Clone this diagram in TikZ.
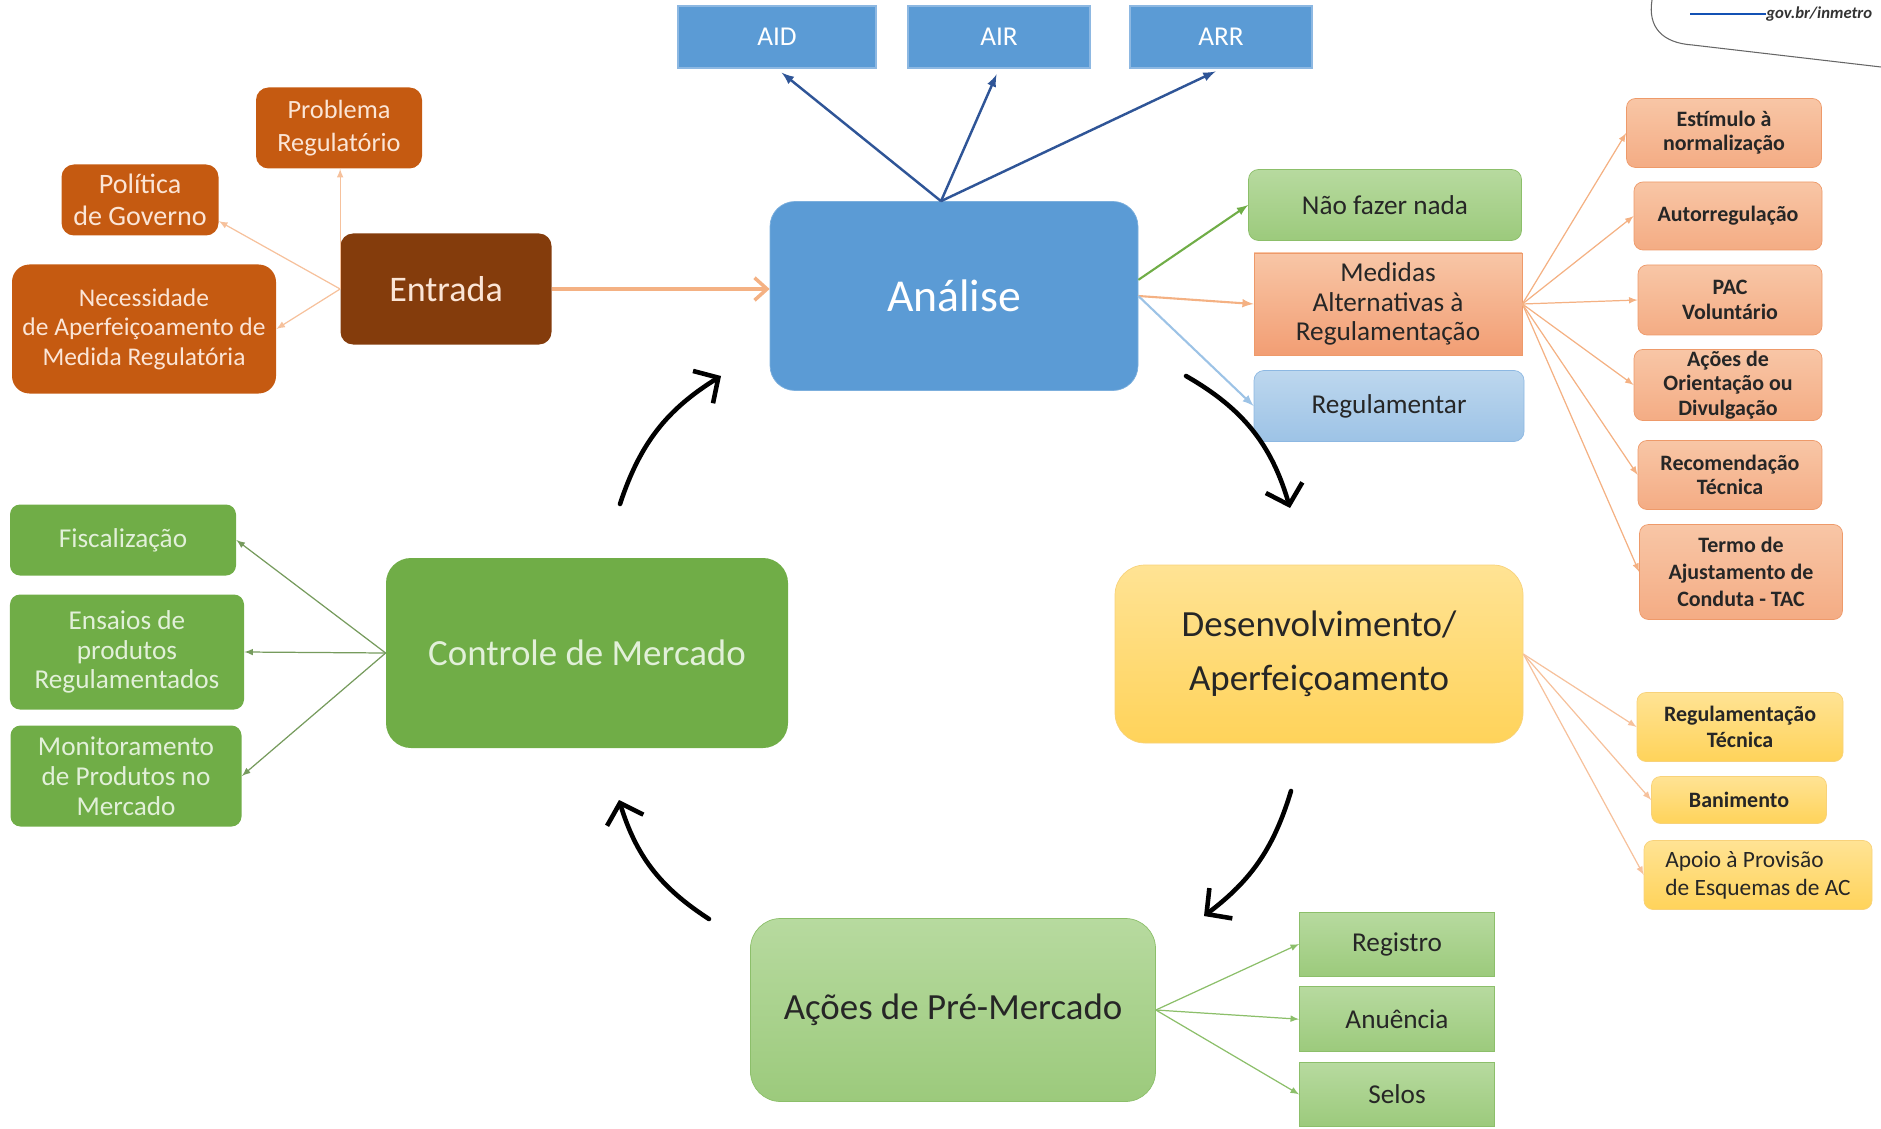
\documentclass[tikz,border=0pt]{standalone}
\usepackage{fontspec}
\setmainfont{Carlito}
\usepackage{xcolor}
\usepackage{tikz}
\usetikzlibrary{calc}
\usetikzlibrary{arrows}
\usetikzlibrary{arrows.meta}
\usetikzlibrary{positioning}

\definecolor{azul}{HTML}{5B9BD5}
\definecolor{azulborda}{HTML}{8DB8E2}
\definecolor{azula}{HTML}{BDD7EE}
\definecolor{azulb}{HTML}{9DC3E6}
\definecolor{azulesc}{HTML}{2F5597}
\definecolor{azulgov}{HTML}{1351B4}
\definecolor{marrom}{HTML}{843C0C}
\definecolor{laranjaesc}{HTML}{C55A11}
\definecolor{creme}{HTML}{FBE5D6}
\definecolor{pessego}{HTML}{F4B183}
\definecolor{salmaoa}{HTML}{F8C6A6}
\definecolor{salmaob}{HTML}{F4AC84}
\definecolor{salmaoc}{HTML}{F29E74}
\definecolor{salmaoborda}{HTML}{EE9A6A}
\definecolor{amareloa}{HTML}{FFE394}
\definecolor{amarelob}{HTML}{FFD35A}
\definecolor{amareloborda}{HTML}{F8D27A}
\definecolor{verde}{HTML}{70AD47}
\definecolor{verdeesc}{HTML}{548235}
\definecolor{verdetexto}{HTML}{E2F0D9}
\definecolor{verdea}{HTML}{B7DA9F}
\definecolor{verdeb}{HTML}{9CCA7C}
\definecolor{verdeborda}{HTML}{8CBF6A}

\begin{document}
\begin{tikzpicture}
    \tikzstyle{every node}=[align=center,inner sep=1pt,font=\fontsize{15.5}{17}\selectfont]
    \tikzstyle{grande}=[font=\fontsize{21}{31}\selectfont]
    \tikzstyle{entr}=[fill=laranjaesc,text=creme,rounded corners=0.25cm]
    \tikzstyle{topo}=[fill=azul,draw=azulborda,line width=1pt,text=white]
    \tikzstyle{alt}=[top color=salmaoa,bottom color=salmaob,draw=salmaoborda,rounded corners=0.18cm,text=black!85,font=\bfseries\fontsize{12.5}{13.8}\selectfont]
    \tikzstyle{reg}=[top color=amareloa,bottom color=amarelob,draw=amareloborda,rounded corners=0.18cm,text=black!85,font=\bfseries\fontsize{12.5}{15}\selectfont]
    \tikzstyle{merc}=[fill=verde,text=verdetexto,rounded corners=0.2cm]
    \tikzstyle{pre}=[top color=verdea,bottom color=verdeb,draw=verdeborda,text=black!85]
    \tikzstyle{fino}=[-latex,line width=0.7pt]
    \tikzstyle{ciclo}=[-{Straight Barb[length=0.36cm,width=0.76cm]},line width=2.6pt,black,line cap=round]

   \useasboundingbox (0,0) rectangle (37.62,-22.58);

   % entrada e origens
   \node[entr,fill=marrom,minimum width=4.22cm,minimum height=2.22cm,font=\fontsize{20.5}{24}\selectfont] (entrada) at (8.92,-5.78) {Entrada};
   \node[entr,minimum width=3.32cm,minimum height=1.62cm,font=\fontsize{15}{18.4}\selectfont] (problema) at (6.78,-2.56) {Problema\\Regulatório};
   \node[entr,minimum width=3.14cm,minimum height=1.42cm,font=\fontsize{16}{18.4}\selectfont] (politica) at (2.80,-4.00) {Política\\de Governo};
   \node[entr,rounded corners=0.35cm,minimum width=5.28cm,minimum height=2.58cm,font=\fontsize{14.5}{16.7}\selectfont] (necessidade) at (2.88,-6.58) {Necessidade\\de Aperfeiçoamento de\\Medida Regulatória};

   % analise
   \node[fill=azul,draw=azul!80!white,rounded corners=0.5cm,minimum width=7.36cm,minimum height=3.78cm,text=white,font=\fontsize{26}{30}\selectfont] (analise) at (19.08,-5.92) {Análise};
   \node[topo,minimum width=3.96cm,minimum height=1.24cm] (aid) at (15.54,-0.74) {AID};
   \node[topo,minimum width=3.64cm,minimum height=1.24cm] (air) at (19.98,-0.74) {AIR};
   \node[topo,minimum width=3.64cm,minimum height=1.24cm] (arr) at (24.42,-0.74) {ARR};

   \node[rounded corners=0.2cm,top color=verdea,bottom color=verdeb,draw=verdeborda,text=black!85,minimum width=5.46cm,minimum height=1.42cm] (nada) at (27.70,-4.10) {Não fazer nada};
   \node[top color=salmaoa,bottom color=salmaoc,draw=salmaoborda,text=black!85,minimum width=5.36cm,minimum height=2.04cm] (medidas) at (27.76,-6.08) {Medidas\\Alternativas à\\Regulamentação};
   \node[rounded corners=0.2cm,top color=azula,bottom color=azulb,draw=azulborda,text=black!85,minimum width=5.40cm,minimum height=1.42cm] (regulamentar) at (27.78,-8.12) {Regulamentar};

   \node[alt,minimum width=3.90cm,minimum height=1.38cm] (estimulo) at (34.48,-2.66) {Estímulo à\\normalização};
   \node[alt,minimum width=3.76cm,minimum height=1.36cm] (autorreg) at (34.56,-4.32) {Autorregulação};
   \node[alt,minimum width=3.68cm,minimum height=1.40cm] (pac) at (34.60,-6.00) {PAC\\Voluntário};
   \node[alt,minimum width=3.76cm,minimum height=1.42cm] (orientacao) at (34.56,-7.70) {Ações de\\Orientação ou\\Divulgação};
   \node[alt,minimum width=3.68cm,minimum height=1.38cm] (recomendacao) at (34.60,-9.50) {Recomendação\\Técnica};
   \node[alt,minimum width=4.06cm,minimum height=1.90cm,font=\bfseries\fontsize{12.5}{15.5}\selectfont] (termo) at (34.82,-11.44) {Termo de\\Ajustamento de\\Conduta - TAC};

   % desenvolvimento
   \node[grande,top color=amareloa,bottom color=amarelob,draw=amareloborda,rounded corners=0.6cm,text=black!85,minimum width=8.16cm,minimum height=3.56cm] (desenv) at (26.38,-13.08) {Desenvolvimento/\\Aperfeiçoamento};
   \node[reg,minimum width=4.12cm,minimum height=1.38cm] (regtec) at (34.80,-14.54) {Regulamentação\\Técnica};
   \node[reg,minimum width=3.50cm,minimum height=0.94cm] (banimento) at (34.78,-16.00) {Banimento};
   \node[reg,align=left,minimum width=4.56cm,minimum height=1.38cm,font=\fontsize{13.3}{16}\selectfont] (apoio) at (35.16,-17.50) {Apoio à Provisão\\de Esquemas de AC};

   % pre-mercado
   \node[grande,pre,rounded corners=0.6cm,minimum width=8.10cm,minimum height=3.66cm] (premercado) at (19.06,-20.20) {Ações de Pré-Mercado};
   \node[pre,minimum width=3.90cm,minimum height=1.28cm] (registro) at (27.94,-18.88) {Registro};
   \node[pre,minimum width=3.90cm,minimum height=1.30cm,below=0.2cm of registro] (anuencia) {Anuência};
   \node[pre,minimum width=3.90cm,minimum height=1.28cm,below=0.2cm of anuencia] (selos) {Selos};

   % controle de mercado
   \node[grande,merc,rounded corners=0.5cm,minimum width=8.04cm,minimum height=3.80cm] (controle) at (11.74,-13.06) {Controle de Mercado};
   \node[merc,minimum width=4.52cm,minimum height=1.42cm] (fiscal) at (2.46,-10.80) {Fiscalização};
   \node[merc,minimum width=4.68cm,minimum height=2.30cm] (ensaios) at (2.54,-13.04) {Ensaios de\\produtos\\Regulamentados};
   \node[merc,minimum width=4.62cm,minimum height=2.02cm] (monitor) at (2.52,-15.52) {Monitoramento\\de Produtos no\\Mercado};

   % ligacoes
   \draw[pessego,line width=2pt,-{Straight Barb[length=0.25cm,width=0.45cm]}] (entrada.east) -- (entrada.east -| analise.west);
   \draw[fino,pessego!80] (entrada.west) -- (entrada.west |- problema.south);
   \draw[fino,pessego!80] (entrada.west) -- (politica.-15);
   \draw[fino,pessego!80] (entrada.west) -- (necessidade.east);

   \coordinate (atopo) at ($(analise.north)+(-0.26,0)$);
   \foreach \alvo in {aid,air,arr}
     \draw[azulesc,line width=1.4pt,-latex,shorten >=0.12cm] (atopo) -- (\alvo.south);

   \draw[fino,verde,line width=1.2pt] (analise.5) -- (nada.west);
   \draw[fino,pessego,line width=1.2pt] (analise.east) -- (medidas.west);
   \draw[fino,azulb,line width=1.2pt] (analise.east) -- (regulamentar.west);

   \foreach \alvo in {estimulo,autorreg,pac,orientacao,recomendacao,termo}
     \draw[fino,pessego] (medidas.east) -- (\alvo.west);

   \foreach \alvo in {regtec,banimento,apoio}
     \draw[fino,pessego!80] (desenv.east) -- (\alvo.west);

   \foreach \alvo in {registro,anuencia,selos}
     \draw[fino,verdeborda] (premercado.east) -- (\alvo.west);

   \foreach \alvo in {fiscal,ensaios,monitor}
     \draw[fino,verdeesc!80] (controle.west) -- (\alvo.east);

   % ciclo
   \coordinate (c1) at (12.40,-10.08);
   \coordinate (c2) at (14.42,-7.52);
   \coordinate (c3) at (23.72,-7.52);
   \coordinate (c4) at (25.80,-10.16);
   \coordinate (c5) at (25.82,-15.82);
   \coordinate (c6) at (24.08,-18.32);
   \coordinate (c7) at (14.18,-18.38);
   \coordinate (c8) at (12.38,-16.00);

   \draw[ciclo] (c1) to[bend left=20] (c2);
   \draw[ciclo] (c3) to[bend left=22] (c4);
   \draw[ciclo] (c5) to[bend left=18] (c6);
   \draw[ciclo] (c7) to[bend left=20] (c8);

   % marca
   \node[anchor=west,inner sep=0pt,text=black!80,font=\bfseries\itshape\fontsize{9.5}{11}\selectfont] (logo) at (35.32,-0.28) {gov.br/inmetro};
   \draw[azulgov,line width=0.8pt] (logo.west) -- ++(-1.52,0);
   \draw[black!60,line width=0.6pt] (33.04,0) .. controls (32.95,-0.55) and (33.25,-0.86) .. (33.85,-0.90) -- (37.62,-1.34);

  \end{tikzpicture}
\end{document}
